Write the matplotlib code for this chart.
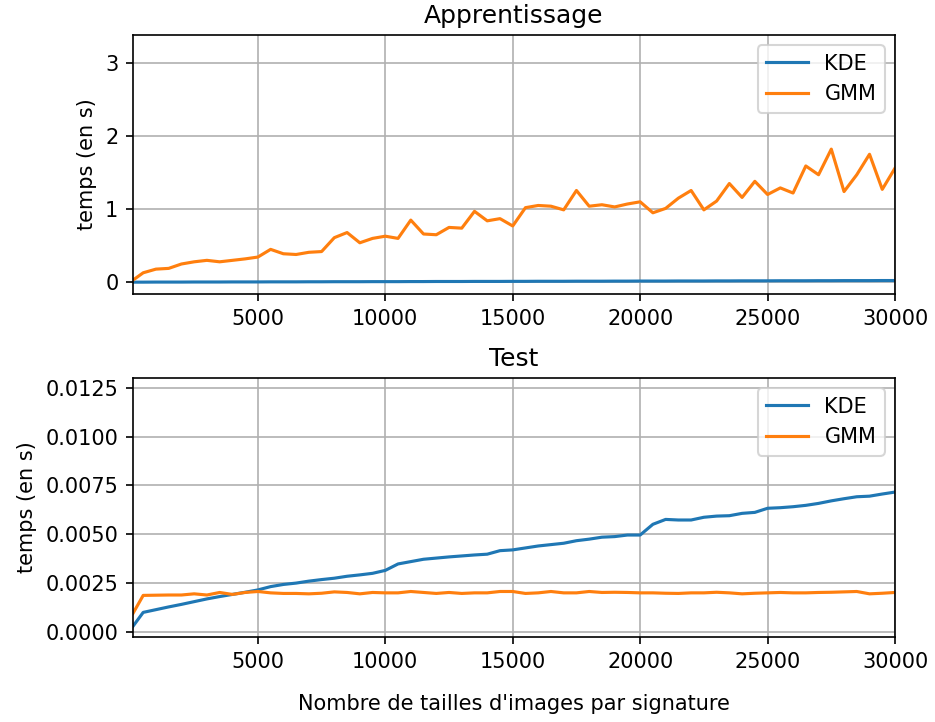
import matplotlib
matplotlib.use("Agg")
import matplotlib.pyplot as plt

# --- data ---
tailles = [100] + list(range(500, 30001, 500))

train_kde = [0.002, 0.002, 0.003, 0.003, 0.003, 0.004, 0.004, 0.004, 0.005, 0.005,
             0.005, 0.006, 0.006, 0.006, 0.007, 0.007, 0.008, 0.008, 0.008, 0.009,
             0.009, 0.009, 0.010, 0.010, 0.011, 0.011, 0.011, 0.012, 0.012, 0.012,
             0.013, 0.013, 0.014, 0.014, 0.014, 0.015, 0.015, 0.015, 0.016, 0.016,
             0.017, 0.017, 0.017, 0.018, 0.018, 0.018, 0.019, 0.019, 0.020, 0.020,
             0.020, 0.021, 0.021, 0.021, 0.022, 0.022, 0.023, 0.023, 0.023, 0.024,
             0.024]
train_gmm = [0.03, 0.13, 0.18, 0.19, 0.25, 0.28, 0.30, 0.28, 0.30, 0.32,
             0.345, 0.45, 0.39, 0.38, 0.41, 0.42, 0.61, 0.68, 0.54, 0.60,
             0.63, 0.60, 0.85, 0.66, 0.65, 0.75, 0.74, 0.97, 0.84, 0.87,
             0.77, 1.02, 1.05, 1.04, 0.99, 1.255, 1.04, 1.06, 1.03, 1.07,
             1.10, 0.95, 1.01, 1.15, 1.255, 0.99, 1.11, 1.35, 1.16, 1.38,
             1.20, 1.29, 1.22, 1.59, 1.47, 1.82, 1.24, 1.47, 1.75, 1.27,
             1.56]

test_kde = [0.00029, 0.00100, 0.00114, 0.00128, 0.00141, 0.00155, 0.00169, 0.00181, 0.00192, 0.00203,
            0.00215, 0.00232, 0.00243, 0.00250, 0.00260, 0.00268, 0.00275, 0.00285, 0.00292, 0.00300,
            0.00315, 0.00348, 0.00360, 0.00372, 0.00378, 0.00384, 0.00389, 0.00394, 0.00398, 0.00416,
            0.00420, 0.00430, 0.00440, 0.00447, 0.00454, 0.00467, 0.00475, 0.00485, 0.00488, 0.00496,
            0.00496, 0.00551, 0.00576, 0.00573, 0.00573, 0.00587, 0.00593, 0.00595, 0.00607, 0.00612,
            0.00633, 0.00636, 0.00641, 0.00648, 0.00658, 0.00671, 0.00682, 0.00692, 0.00695, 0.00706,
            0.00716]
test_gmm = [0.00095, 0.00187, 0.00188, 0.00189, 0.00189, 0.00195, 0.00189, 0.00202, 0.00192, 0.00202,
            0.00207, 0.00200, 0.00197, 0.00197, 0.00195, 0.00198, 0.00205, 0.00202, 0.00195, 0.00202,
            0.00200, 0.00200, 0.00207, 0.00202, 0.00197, 0.00202, 0.00197, 0.00200, 0.00200, 0.00207,
            0.00207, 0.00197, 0.00200, 0.00207, 0.00200, 0.00200, 0.00207, 0.00202, 0.00203, 0.00202,
            0.00200, 0.00200, 0.00198, 0.00197, 0.00200, 0.00200, 0.00203, 0.00200, 0.00195, 0.00198,
            0.00200, 0.00202, 0.00200, 0.00200, 0.00202, 0.00203, 0.00205, 0.00207, 0.00195, 0.00198,
            0.00202]

W, H = 935, 722
fig = plt.figure(figsize=(W / 150, H / 150), dpi=150)

def frac(x0, y0, x1, y1):
    return [x0 / W, 1 - y1 / H, (x1 - x0) / W, (y1 - y0) / H]

ax1 = fig.add_axes(frac(133, 35, 895, 294))
ax2 = fig.add_axes(frac(133, 378, 895, 637))

# --- training times ---
ax1.plot(tailles, train_kde, label='KDE')
ax1.plot(tailles, train_gmm, label='GMM')
ax1.set_title('Apprentissage')
ax1.set_ylabel('temps (en s)')
ax1.set_xlim(tailles[0], tailles[-1])
ax1.set_ylim(-0.16, 3.38)
ax1.set_xticks([5000, 10000, 15000, 20000, 25000, 30000])
ax1.set_yticks([0, 1, 2, 3])
ax1.grid(True)
ax1.legend(loc='upper right')

# --- test times ---
ax2.plot(tailles, test_kde, label='KDE')
ax2.plot(tailles, test_gmm, label='GMM')
ax2.set_title('Test')
ax2.set_ylabel('temps (en s)')
ax2.set_xlabel("Nombre de tailles d'images par signature", labelpad=11)
ax2.set_xlim(tailles[0], tailles[-1])
ax2.set_ylim(-0.00026, 0.0130)
ax2.set_xticks([5000, 10000, 15000, 20000, 25000, 30000])
ax2.set_yticks([0.0, 0.0025, 0.005, 0.0075, 0.01, 0.0125])
ax2.set_yticklabels(['0.0000', '0.0025', '0.0050', '0.0075', '0.0100', '0.0125'])
ax2.grid(True)
ax2.legend(loc='upper right')

fig.savefig('out.png', dpi=150)
